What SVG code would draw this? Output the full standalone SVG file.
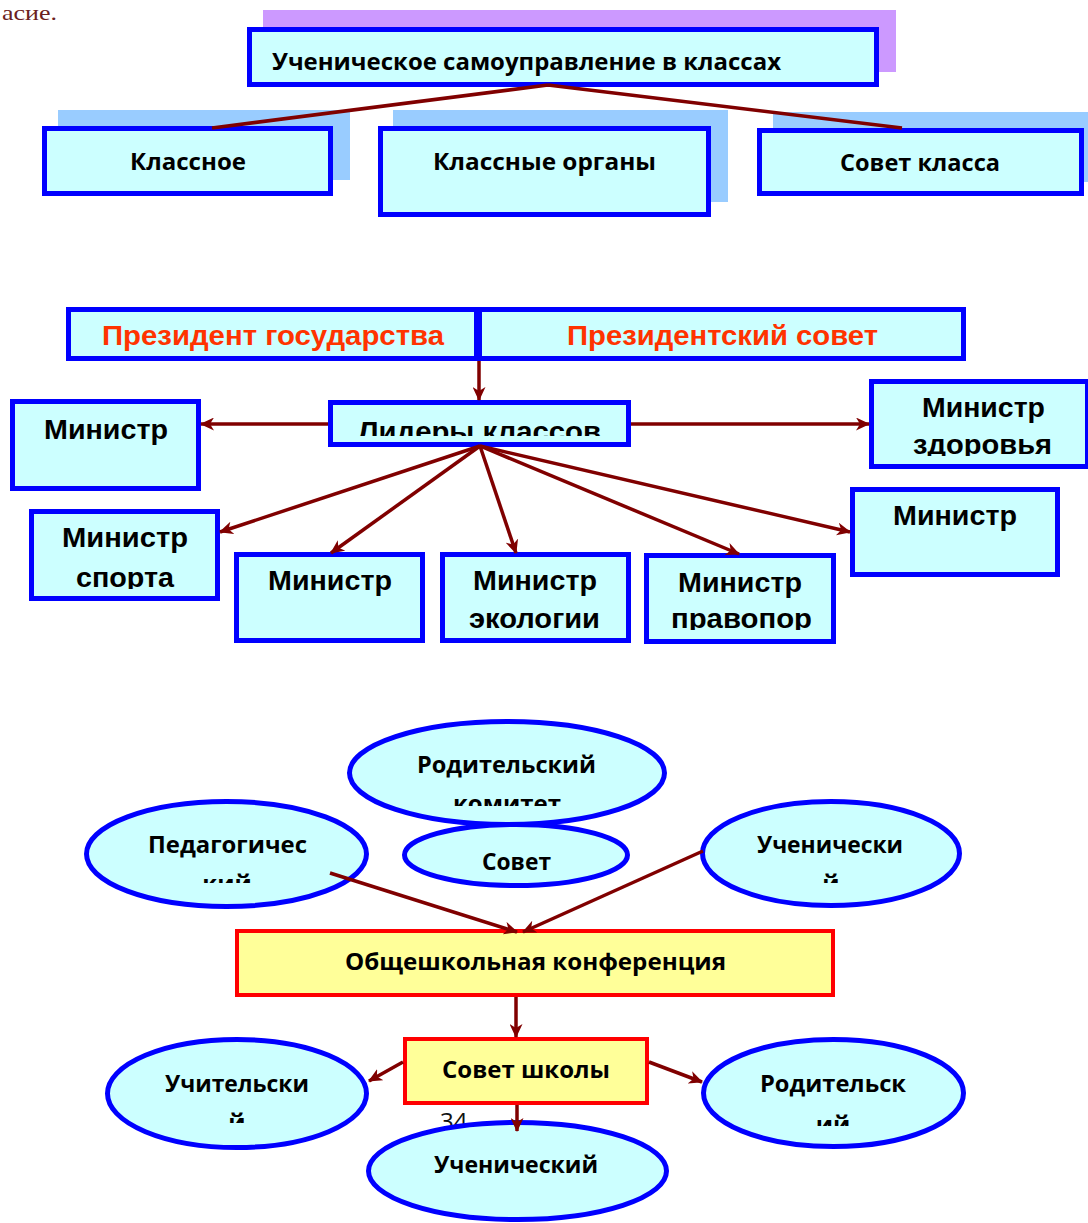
<svg xmlns="http://www.w3.org/2000/svg" width="1088" height="1223" viewBox="0 0 1088 1223">
<style>
.box{fill:#CCFFFF;stroke:#0000FF;stroke-width:5}
.shP{fill:#CC99FF}
.shB{fill:#99CCFF}
.rbox{fill:#FFFF99;stroke:#FF0000;stroke-width:4}
.ell{fill:#CCFFFF;stroke:#0000FF;stroke-width:5}
.c{font-family:"Open Sans","Noto Sans",sans-serif;font-weight:700;font-size:24px;fill:#000}
.a{font-family:"Liberation Sans",Arial,sans-serif;font-weight:700;font-size:28px;fill:#000}
.pr{fill:#FF3300}
.m{text-anchor:middle}
.conn{stroke:#800000;stroke-width:3.5;fill:none}
.arr{marker-end:url(#ah)}
</style>
<defs>
<marker id="ah" markerUnits="userSpaceOnUse" viewBox="0 0 14 13" markerWidth="14" markerHeight="13" refX="13" refY="6.5" orient="auto">
<path d="M0,0 L14,6.5 L0,13 L4,6.5 z" fill="#800000"/>
</marker>
<clipPath id="clLid"><rect x="330" y="400" width="300" height="36"/></clipPath>
<clipPath id="clZdr"><rect x="870" y="380" width="218" height="76"/></clipPath>
<clipPath id="clPrv"><rect x="645" y="554" width="190" height="76"/></clipPath>
<clipPath id="clSpo"><rect x="30" y="510" width="190" height="79"/></clipPath>
<clipPath id="clKom"><rect x="340" y="715" width="330" height="91"/></clipPath>
<clipPath id="clPed"><rect x="80" y="795" width="300" height="88"/></clipPath>
<clipPath id="clUchR"><rect x="695" y="795" width="275" height="88"/></clipPath>
<clipPath id="clUchit"><rect x="100" y="1030" width="275" height="93"/></clipPath>
<clipPath id="clRodB"><rect x="695" y="1030" width="275" height="96"/></clipPath>
</defs>

<text x="2" y="20" font-family="'Liberation Serif',serif" font-size="22" fill="#6B2020" textLength="55" lengthAdjust="spacingAndGlyphs">асие.</text>

<!-- Top section -->
<g id="n-main">
<rect class="shP" x="263" y="10" width="633" height="62"/>
<rect class="box" x="249.5" y="29.5" width="627" height="55"/>
<text class="c" x="272" y="70" textLength="509" lengthAdjust="spacingAndGlyphs">Ученическое самоуправление в классах</text>
</g>
<g id="n-klassnoe">
<rect class="shB" x="58" y="110" width="292" height="70"/>
<rect class="box" x="44.5" y="128.5" width="286" height="65"/>
<text class="c" x="130" y="170" textLength="116" lengthAdjust="spacingAndGlyphs">Классное</text>
</g>
<g id="n-organy">
<rect class="shB" x="393" y="110" width="335" height="92"/>
<rect class="box" x="380.5" y="128.5" width="328" height="86"/>
<text class="c" x="433" y="170" textLength="223" lengthAdjust="spacingAndGlyphs">Классные органы</text>
</g>
<g id="n-sovet-klassa">
<rect class="shB" x="773" y="112" width="315" height="70"/>
<rect class="box" x="759.5" y="130.5" width="322" height="63"/>
<text class="c" x="840" y="171" textLength="160" lengthAdjust="spacingAndGlyphs">Совет класса</text>
</g>

<!-- Middle section -->
<g id="n-prezident">
<rect class="box" x="68.5" y="309.5" width="408" height="49"/>
<text class="a pr" x="102" y="345" textLength="342" lengthAdjust="spacingAndGlyphs">Президент государства</text>
</g>
<g id="n-prez-sovet">
<rect class="box" x="479.5" y="309.5" width="484" height="49"/>
<text class="a pr" x="567" y="345" textLength="311" lengthAdjust="spacingAndGlyphs">Президентский совет</text>
</g>
<g id="n-lidery">
<rect class="box" x="330.5" y="402.5" width="298" height="42"/>
<text class="a" x="358" y="441" textLength="243" lengthAdjust="spacingAndGlyphs" clip-path="url(#clLid)">Лидеры классов</text>
</g>
<g id="n-min-left">
<rect class="box" x="12.5" y="401.5" width="186" height="87"/>
<text class="a" x="44" y="439" textLength="124" lengthAdjust="spacingAndGlyphs">Министр</text>
</g>
<g id="n-min-zdorovya">
<rect class="box" x="871.5" y="381.5" width="216" height="85"/>
<g clip-path="url(#clZdr)">
<text class="a" x="922" y="417" textLength="123" lengthAdjust="spacingAndGlyphs">Министр</text>
<text class="a" x="913" y="454" textLength="139" lengthAdjust="spacingAndGlyphs">здоровья</text>
</g>
</g>
<g id="n-min-right">
<rect class="box" x="852.5" y="489.5" width="205" height="85"/>
<text class="a" x="893" y="525" textLength="124" lengthAdjust="spacingAndGlyphs">Министр</text>
</g>
<g id="n-min-sporta">
<rect class="box" x="31.5" y="511.5" width="186" height="87"/>
<g clip-path="url(#clSpo)">
<text class="a" x="62" y="547" textLength="126" lengthAdjust="spacingAndGlyphs">Министр</text>
<text class="a" x="76" y="587" textLength="98" lengthAdjust="spacingAndGlyphs">спорта</text>
</g>
</g>
<g id="n-min-mid">
<rect class="box" x="236.5" y="554.5" width="186" height="86"/>
<text class="a" x="268" y="590" textLength="124" lengthAdjust="spacingAndGlyphs">Министр</text>
</g>
<g id="n-min-ekologii">
<rect class="box" x="442.5" y="554.5" width="186" height="86"/>
<text class="a" x="473" y="590" textLength="124" lengthAdjust="spacingAndGlyphs">Министр</text>
<text class="a" x="469" y="628" textLength="131" lengthAdjust="spacingAndGlyphs">экологии</text>
</g>
<g id="n-min-pravopor">
<rect class="box" x="646.5" y="555.5" width="187" height="86"/>
<g clip-path="url(#clPrv)">
<text class="a" x="678" y="592" textLength="124" lengthAdjust="spacingAndGlyphs">Министр</text>
<text class="a" x="671" y="628" textLength="141" lengthAdjust="spacingAndGlyphs">правопор</text>
</g>
</g>

<!-- Bottom section -->
<g id="n-rod-komitet">
<ellipse class="ell" cx="507" cy="773" rx="157.5" ry="51.5"/>
<g clip-path="url(#clKom)">
<text class="c" x="417" y="773" textLength="179" lengthAdjust="spacingAndGlyphs">Родительский</text>
<text class="c m" x="507" y="812">комитет</text>
</g>
</g>
<g id="n-sovet">
<ellipse class="ell" cx="516" cy="855" rx="111.5" ry="30.5"/>
<text class="c" x="482" y="870" textLength="69" lengthAdjust="spacingAndGlyphs">Совет</text>
</g>
<g id="n-pedagog">
<ellipse class="ell" cx="226.5" cy="854" rx="140" ry="52.5"/>
<g clip-path="url(#clPed)">
<text class="c" x="148" y="853" textLength="159" lengthAdjust="spacingAndGlyphs">Педагогичес</text>
<text class="c m" x="227" y="892">кий</text>
</g>
</g>
<g id="n-uchen-r">
<ellipse class="ell" cx="831" cy="853.5" rx="128.5" ry="52"/>
<g clip-path="url(#clUchR)">
<text class="c" x="757" y="853" textLength="146" lengthAdjust="spacingAndGlyphs">Ученически</text>
<text class="c m" x="831" y="892">й</text>
</g>
</g>
<g id="n-konferencia">
<rect class="rbox" x="237" y="931" width="596" height="64"/>
<text class="c" x="345" y="970" textLength="381" lengthAdjust="spacingAndGlyphs">Общешкольная конференция</text>
</g>
<g id="n-sovet-shkoly">
<rect class="rbox" x="405" y="1039" width="242" height="64"/>
<text class="c" x="442" y="1078" textLength="168" lengthAdjust="spacingAndGlyphs">Совет школы</text>
</g>
<g id="n-uchitel">
<ellipse class="ell" cx="237" cy="1093.5" rx="129.5" ry="54"/>
<g clip-path="url(#clUchit)">
<text class="c" x="165" y="1092" textLength="144" lengthAdjust="spacingAndGlyphs">Учительски</text>
<text class="c m" x="237" y="1131">й</text>
</g>
</g>
<text x="440" y="1130" font-family="'Open Sans',sans-serif" font-size="24" fill="#111">34</text>
<g id="n-uchen-b">
<ellipse class="ell" cx="517.5" cy="1171" rx="149" ry="48.5"/>
<text class="c" x="434" y="1173" textLength="164" lengthAdjust="spacingAndGlyphs">Ученический</text>
</g>
<g id="n-rod-b">
<ellipse class="ell" cx="833.5" cy="1093" rx="130" ry="53.5"/>
<g clip-path="url(#clRodB)">
<text class="c" x="760" y="1092" textLength="146" lengthAdjust="spacingAndGlyphs">Родительск</text>
<text class="c m" x="833" y="1133">ий</text>
</g>
</g>

<!-- Connectors -->
<g id="connectors">
<line class="conn" x1="548" y1="85" x2="212" y2="128" stroke-width="4"/>
<line class="conn" x1="548" y1="85" x2="902" y2="128" stroke-width="4"/>
<line class="conn arr" x1="479" y1="361" x2="479" y2="400"/>
<line class="conn arr" x1="328" y1="424" x2="201" y2="424"/>
<line class="conn arr" x1="631" y1="424" x2="869" y2="424"/>
<line class="conn arr" x1="480" y1="446" x2="220" y2="532"/>
<line class="conn arr" x1="480" y1="446" x2="331" y2="553"/>
<line class="conn arr" x1="480" y1="446" x2="516" y2="553"/>
<line class="conn arr" x1="480" y1="446" x2="739" y2="554"/>
<line class="conn arr" x1="480" y1="446" x2="850" y2="532"/>
<line class="conn arr" x1="330" y1="873" x2="517" y2="932"/>
<line class="conn arr" x1="703" y1="851" x2="523" y2="932"/>
<line class="conn arr" x1="516" y1="997" x2="516" y2="1037"/>
<line class="conn arr" x1="403" y1="1062" x2="369" y2="1081"/>
<line class="conn arr" x1="649" y1="1062" x2="702" y2="1082"/>
<line class="conn arr" x1="517" y1="1105" x2="517" y2="1131"/>
</g>
</svg>
